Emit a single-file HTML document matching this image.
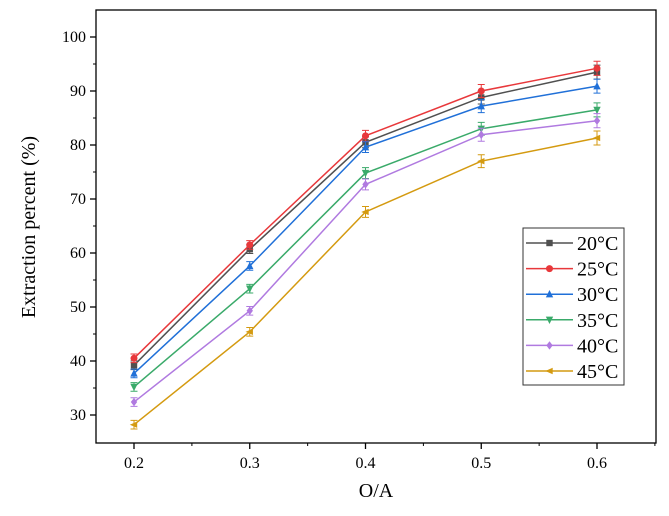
<!DOCTYPE html>
<html><head><meta charset="utf-8"><style>
body{margin:0;background:#fff}
svg text{font-family:"Liberation Serif",serif;fill:#000}
</style></head><body>
<svg id="c" width="669" height="511" xmlns="http://www.w3.org/2000/svg"></svg>
<script>
const categories=[0.2,0.3,0.4,0.5,0.6];
const seriesNames=["20°C","25°C","30°C","35°C","40°C","45°C"];
const s20=[39.2,60.7,80.5,88.8,93.5];
const s25=[40.5,61.5,81.7,90.0,94.2];
const s30=[37.7,57.6,79.6,87.2,90.9];
const s35=[35.2,53.4,74.8,83.0,86.5];
const s40=[32.4,49.3,72.7,81.9,84.5];
const s45=[28.2,45.4,67.6,77.0,81.3];
const errs=[0.8,0.8,1.0,1.2,1.3];
const yTicks=[30,40,50,60,70,80,90,100];
const xTicks=[0.2,0.3,0.4,0.5,0.6];
const colors=["#505050","#e8383b","#2070d8","#3aaa6a","#b07ae0","#d49a10"];
const markers=["square","circle","up","down","diamond","left"];
const allSeries=[s20,s25,s30,s35,s40,s45];
const L=96,R=656,T=10,B=443;
const xs=v=>134+(v-0.2)*1157.5;
const ys=v=>415-(v-30)*5.4;
const svg=document.getElementById('c');
const NS="http://www.w3.org/2000/svg";
function mk(t,a,p){const e=document.createElementNS(NS,t);for(const k in a)e.setAttribute(k,a[k]);(p||svg).appendChild(e);return e;}
let frame=mk('rect',{x:L,y:T,width:R-L,height:B-T,fill:'none',stroke:'#000','stroke-width':1.3});


yTicks.forEach(v=>{
 const y=ys(v);
 mk('line',{x1:L-6,x2:L,y1:y,y2:y,stroke:'#000','stroke-width':1.3});
 if(v>30)mk('line',{x1:L-3,x2:L,y1:y+27,y2:y+27,stroke:'#000','stroke-width':1});
 const t=mk('text',{x:L-10,y:y+5,'text-anchor':'end','font-size':16});t.textContent=v;
 
 
});
xTicks.forEach(v=>{
 const x=xs(v);
 mk('line',{x1:x,x2:x,y1:B,y2:B+6,stroke:'#000','stroke-width':1.3});
 mk('line',{x1:x+57.9,x2:x+57.9,y1:B,y2:B+3,stroke:'#000','stroke-width':1});
 const t=mk('text',{x:x,y:B+25,'text-anchor':'middle','font-size':16});t.textContent=v.toFixed(1);
 
 
});
let xt=mk('text',{x:376,y:497,'text-anchor':'middle','font-size':20});xt.textContent="O/A";


let yt=mk('text',{x:0,y:0,'text-anchor':'middle','font-size':20,transform:'translate(35,227) rotate(-90)'});yt.textContent="Extraction percent (%)";


function marker(kind,x,y,c,g){
 const r=3.2;
 if(kind=='square')return mk('rect',{x:x-r,y:y-r,width:2*r,height:2*r,fill:c},g);
 if(kind=='circle')return mk('circle',{cx:x,cy:y,r:r+0.3,fill:c},g);
 let p;
 if(kind=='up')p=[[x,y-r-1],[x-r-0.5,y+r],[x+r+0.5,y+r]];
 if(kind=='down')p=[[x,y+r+1],[x-r-0.5,y-r],[x+r+0.5,y-r]];
 if(kind=='diamond')p=[[x,y-r-1],[x+r,y],[x,y+r+1],[x-r,y]];
 if(kind=='left')p=[[x-r-1,y],[x+r,y-r],[x+r,y+r]];
 return mk('polygon',{points:p.map(q=>q.join(',')).join(' '),fill:c},g);
}
allSeries.forEach((s,i)=>{
 const g=mk('g',{});
 
 
 const c=colors[i];
 mk('polyline',{points:s.map((v,j)=>xs(categories[j])+','+ys(v)).join(' '),fill:'none',stroke:c,'stroke-width':1.5},g);
 s.forEach((v,j)=>{
  const x=xs(categories[j]),e=errs[j]*5.4;
  mk('path',{d:`M${x},${ys(v)-e}V${ys(v)+e}M${x-3.5},${ys(v)-e}h7M${x-3.5},${ys(v)+e}h7`,stroke:c,'stroke-width':1,fill:'none'},g);
  const m=marker(markers[i],x,ys(v),c,g);
  
  
 });
});
const lg=mk('g',{});


mk('rect',{x:523,y:228,width:101,height:157,fill:'#fff',stroke:'#333','stroke-width':1},lg);
seriesNames.forEach((n,i)=>{
 const y=243+i*25.6;
 const e=mk('g',{},lg);
 
 
 mk('line',{x1:526,x2:573,y1:y,y2:y,stroke:colors[i],'stroke-width':1.5},e);
 marker(markers[i],549.5,y,colors[i],e);
 const t=mk('text',{x:577,y:y+7,'font-size':20},e);t.textContent=n;
});
</script>
</body></html>
